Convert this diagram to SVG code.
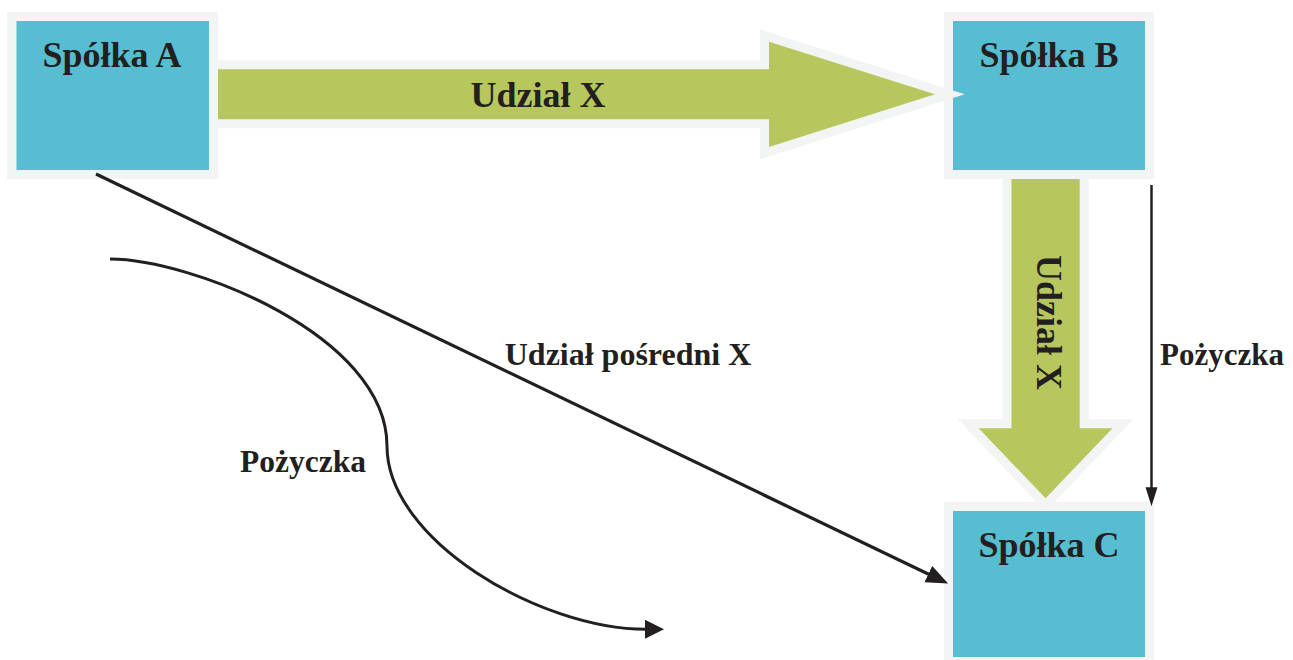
<svg xmlns="http://www.w3.org/2000/svg" width="1293" height="660" viewBox="0 0 1293 660">
  <style>
    .frame { fill: #f3f5f4; }
    .box { fill: #57bed2; }
    .big { fill: #b8c75d; stroke: #f3f5f4; stroke-width: 18; paint-order: stroke; stroke-linejoin: miter; }
    .lbl { font-family: "Liberation Serif", "Times New Roman", serif; font-weight: bold; fill: #231f20; }
    .conn { fill: none; stroke: #231f20; }
    .head { fill: #231f20; }
  </style>
  <defs>
    <marker id="hA" markerUnits="userSpaceOnUse" markerWidth="23" markerHeight="19" refX="1" refY="9" orient="auto">
      <path class="head" d="M0,0 L22,9 L0,18 z"/>
    </marker>
    <marker id="hB" markerUnits="userSpaceOnUse" markerWidth="20" markerHeight="20" refX="1" refY="9.5" orient="auto">
      <path class="head" d="M0,0 L19,9.5 L0,19 z"/>
    </marker>
    <marker id="hC" markerUnits="userSpaceOnUse" markerWidth="20" markerHeight="13" refX="1" refY="6" orient="auto">
      <path class="head" d="M0,0 L19,6 L0,12 z"/>
    </marker>
  </defs>

  <g id="spolka-a">
    <rect class="frame" x="7" y="12" width="211" height="167"/>
    <rect class="box" x="16.5" y="21" width="192.5" height="149"/>
    <text class="lbl" x="112" y="66.5" font-size="36" text-anchor="middle">Spółka A</text>
  </g>
  <g id="spolka-b">
    <rect class="frame" x="944" y="12" width="210" height="167"/>
    <rect class="box" x="953" y="21" width="192" height="149"/>
    <text class="lbl" x="1049" y="66.5" font-size="36" text-anchor="middle">Spółka B</text>
  </g>
  <g id="spolka-c">
    <rect class="frame" x="944" y="502" width="210" height="170"/>
    <rect class="box" x="953" y="511" width="192" height="146"/>
    <text class="lbl" x="1049" y="556.5" font-size="36" text-anchor="middle">Spółka C</text>
  </g>

  <g id="connectors">
    <g id="udzial-ab">
      <polygon class="big" points="218,69.3 769,69.3 769,41.7 935,94.3 769,147 769,119.3 218,119.3"/>
      <text class="lbl" x="538" y="107" font-size="36" text-anchor="middle">Udział X</text>
    </g>
    <g id="udzial-bc">
      <polygon class="big" points="1011.5,179 1079.7,179 1079.7,428.3 1112.5,428.3 1045.6,498.3 978.7,428.3 1011.5,428.3"/>
      <text class="lbl" transform="translate(1037,322.5) rotate(90)" x="0" y="0" font-size="36" text-anchor="middle">Udział X</text>
    </g>
    <g id="posredni-ac">
      <line class="conn" x1="96" y1="174" x2="929.2" y2="574.5" stroke-width="3.2" marker-end="url(#hA)"/>
      <text class="lbl" x="628" y="365" font-size="32" text-anchor="middle">Udział pośredni X</text>
    </g>
    <g id="pozyczka-curve">
      <path class="conn" d="M110,259 C190,259 387,335 387,446 C387,540 540,629.3 646,629.3" stroke-width="3" marker-end="url(#hB)"/>
      <text class="lbl" x="303" y="471.5" font-size="31.5" text-anchor="middle">Pożyczka</text>
    </g>
    <g id="pozyczka-bc">
      <line class="conn" x1="1151.5" y1="185" x2="1151.5" y2="488.3" stroke-width="2.5" marker-end="url(#hC)"/>
      <text class="lbl" x="1222" y="365" font-size="31" text-anchor="middle">Pożyczka</text>
    </g>
  </g>
</svg>
